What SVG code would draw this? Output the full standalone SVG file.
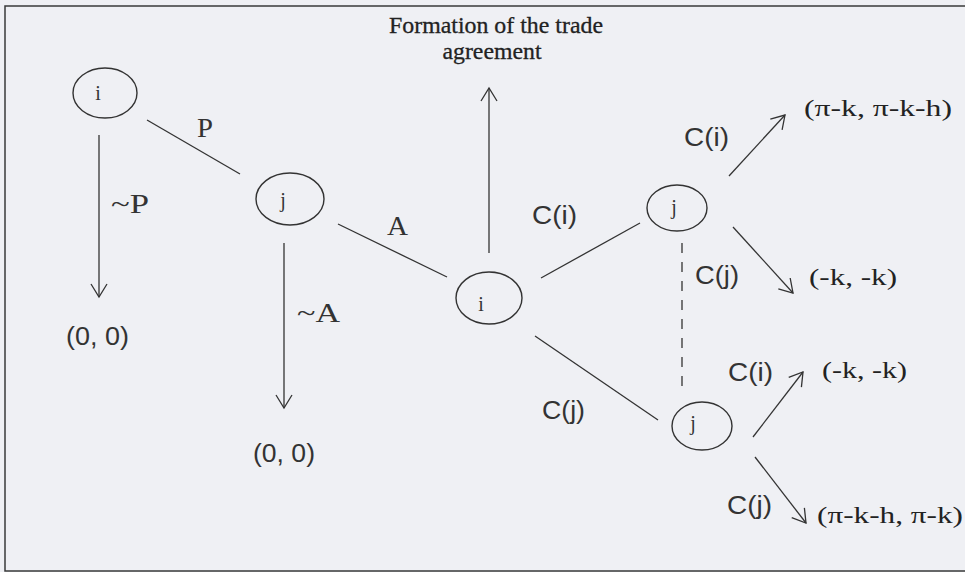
<svg xmlns="http://www.w3.org/2000/svg" width="965" height="572" viewBox="0 0 965 572">
<defs>
<style>
.bg{fill:#eff0f4}
.frame{fill:none;stroke:#3a3a3a;stroke-width:1.5}
.node ellipse{fill:none;stroke:#333;stroke-width:1.4}
.nl{font-family:"Liberation Serif",serif;font-size:20px;fill:#333;text-anchor:middle}
.edge{stroke:#333;stroke-width:1.3;fill:none}
.dash{stroke-dasharray:10,9}
.lab{font-family:"Liberation Serif",serif;font-size:27px;fill:#333}
.lbs{font-family:"Liberation Sans",sans-serif;font-size:25px;fill:#333}
.pay{font-family:"Liberation Serif",serif;font-size:24px;fill:#222}
.title{font-family:"Liberation Serif",serif;font-size:23px;fill:#222;text-anchor:middle;stroke:#222;stroke-width:0.3}
</style>
<marker id="ah" viewBox="-15 -10 17 20" refX="0" refY="0" markerWidth="17" markerHeight="20" markerUnits="userSpaceOnUse" orient="auto">
<path d="M-13,-8 L0,0 L-13,8" fill="none" stroke="#333" stroke-width="1.3"/>
</marker>
</defs>
<rect class="bg" x="0" y="0" width="965" height="572"/>
<path class="frame" d="M965,6 H5 V571 H965"/>

<g id="title">
<text class="title" x="496" y="33" textLength="214" lengthAdjust="spacingAndGlyphs">Formation of the trade</text>
<text class="title" x="492" y="59" textLength="99" lengthAdjust="spacingAndGlyphs">agreement</text>
</g>

<g id="connectors">
<line class="edge" x1="147" y1="120" x2="240" y2="174"/>
<line class="edge" x1="99" y1="135" x2="99" y2="297" marker-end="url(#ah)"/>
<line class="edge" x1="338" y1="224" x2="447" y2="277"/>
<line class="edge" x1="284" y1="243" x2="284" y2="408" marker-end="url(#ah)"/>
<line class="edge" x1="489" y1="253" x2="489" y2="88" marker-end="url(#ah)"/>
<line class="edge" x1="541" y1="278" x2="640" y2="223"/>
<line class="edge" x1="535" y1="336" x2="658" y2="420"/>
<line class="edge dash" x1="682" y1="243" x2="682" y2="388"/>
<line class="edge" x1="729" y1="176" x2="785" y2="115" marker-end="url(#ah)"/>
<line class="edge" x1="733" y1="227" x2="793" y2="293" marker-end="url(#ah)"/>
<line class="edge" x1="753" y1="437" x2="803" y2="372" marker-end="url(#ah)"/>
<line class="edge" x1="755" y1="457" x2="806" y2="523" marker-end="url(#ah)"/>
</g>

<g id="edge-labels">
<text class="lab" x="197" y="137" textLength="16" lengthAdjust="spacingAndGlyphs">P</text>
<text class="lab" x="111" y="213" textLength="38" lengthAdjust="spacingAndGlyphs">~P</text>
<text class="lab" x="387" y="235" textLength="21" lengthAdjust="spacingAndGlyphs">A</text>
<text class="lab" x="297" y="322" textLength="43" lengthAdjust="spacingAndGlyphs">~A</text>
<text class="lbs" x="66" y="345" textLength="63" lengthAdjust="spacingAndGlyphs">(0, 0)</text>
<text class="lbs" x="253" y="462" textLength="62" lengthAdjust="spacingAndGlyphs">(0, 0)</text>
<text class="lbs" x="684" y="146" textLength="45" lengthAdjust="spacingAndGlyphs">C(i)</text>
<text class="lbs" x="532" y="224" textLength="45" lengthAdjust="spacingAndGlyphs">C(i)</text>
<text class="lbs" x="695" y="284" textLength="44" lengthAdjust="spacingAndGlyphs">C(j)</text>
<text class="lbs" x="542" y="419" textLength="43" lengthAdjust="spacingAndGlyphs">C(j)</text>
<text class="lbs" x="728" y="381" textLength="45" lengthAdjust="spacingAndGlyphs">C(i)</text>
<text class="lbs" x="727" y="514" textLength="45" lengthAdjust="spacingAndGlyphs">C(j)</text>
</g>

<g id="payoffs">
<text class="pay" x="804" y="116" textLength="148" lengthAdjust="spacingAndGlyphs">(π-k, π-k-h)</text>
<text class="pay" x="809" y="285" textLength="88" lengthAdjust="spacingAndGlyphs">(-k, -k)</text>
<text class="pay" x="822" y="378" textLength="85" lengthAdjust="spacingAndGlyphs">(-k, -k)</text>
<text class="pay" x="817" y="523" textLength="146" lengthAdjust="spacingAndGlyphs">(π-k-h, π-k)</text>
</g>

<g id="node-i1" class="node"><ellipse cx="105" cy="93" rx="32" ry="25"/><text class="nl" x="98" y="100">i</text></g>
<g id="node-j1" class="node"><ellipse cx="290" cy="199" rx="34" ry="26"/><text class="nl" x="283" y="207">j</text></g>
<g id="node-i2" class="node"><ellipse cx="489" cy="298" rx="33" ry="26"/><text class="nl" x="481" y="311">i</text></g>
<g id="node-j2" class="node"><ellipse cx="677" cy="208" rx="30" ry="23"/><text class="nl" x="674" y="214">j</text></g>
<g id="node-j3" class="node"><ellipse cx="702" cy="426" rx="30" ry="24"/><text class="nl" x="693" y="430">j</text></g>
</svg>
